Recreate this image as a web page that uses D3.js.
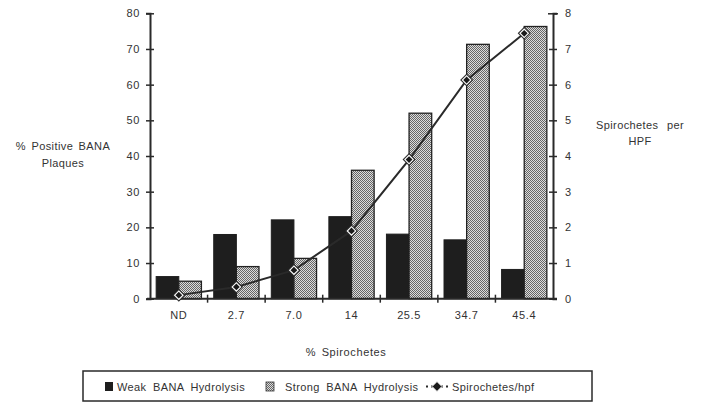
<!DOCTYPE html>
<html><head><meta charset="utf-8">
<script src="https://cdn.jsdelivr.net/npm/d3@7"></script>
<style>
html,body{margin:0;padding:0;background:#fff;}
text{font-family:"Liberation Sans",Arial,Helvetica,sans-serif;fill:#333;}
</style></head>
<body><svg id="c" width="702" height="403"></svg>
<script>
const categories = ["ND","2.7","7.0","14","25.5","34.7","45.4"];
const weakBANA   = [6.2, 18.0, 22.1, 23.0, 18.1, 16.5, 8.2];
const strongBANA = [4.9, 9.0, 11.3, 36.0, 52.0, 71.3, 76.3];
const spirochetesHpf = [0.1, 0.33, 0.8, 1.9, 3.9, 6.13, 7.44];
const leftTicks  = [0,10,20,30,40,50,60,70,80];
const rightTicks = [0,1,2,3,4,5,6,7,8];
const seriesNames = ["Weak BANA Hydrolysis","Strong BANA Hydrolysis","Spirochetes/hpf"];

const svg = d3.select("#c");
const ink = "#2a2a2a";
const defs = svg.append("defs");
const pat = defs.append("pattern").attr("id","dots").attr("patternUnits","userSpaceOnUse")
  .attr("width",2).attr("height",2);
pat.append("rect").attr("width",2).attr("height",2).attr("fill","#dcdcdc");
pat.append("rect").attr("width",1).attr("height",1).attr("fill","#666");
pat.append("rect").attr("x",1).attr("y",1).attr("width",1).attr("height",1).attr("fill","#666");

const L = 150, R = 553, T = 13.3, B = 298.7;
const x = d3.scaleBand().domain(categories).range([L, R]).padding(0);
const bw = x.bandwidth();
const xs = d3.scaleBand().domain(["weak","strong"]).range([bw*0.107, bw*0.893]).padding(0);
const y = d3.scaleLinear().domain([0,80]).range([B, T]);
const yR = d3.scaleLinear().domain([0,8]).range([B, T]);

// bars
const g = svg.append("g");
g.selectAll("rect.weak").data(categories).join("rect").attr("class","weak")
  .attr("x", d => x(d) + xs("weak")).attr("width", xs.bandwidth())
  .attr("y", (d,i) => y(weakBANA[i])).attr("height", (d,i) => y(0) - y(weakBANA[i]))
  .attr("fill", "#1e1e1e").attr("stroke","#1e1e1e").attr("stroke-width",1);
g.selectAll("rect.strong").data(categories).join("rect").attr("class","strong")
  .attr("x", d => x(d) + xs("strong")).attr("width", xs.bandwidth())
  .attr("y", (d,i) => y(strongBANA[i])).attr("height", (d,i) => y(0) - y(strongBANA[i]))
  .attr("fill", "url(#dots)").attr("stroke","#222").attr("stroke-width",1.3);

// axes
const axL = svg.append("g").attr("transform",`translate(${L},0)`)
  .call(d3.axisLeft(y).tickValues(leftTicks).tickSizeOuter(0).tickSize(4).tickPadding(6));
const axR = svg.append("g").attr("transform",`translate(${R},0)`)
  .call(d3.axisRight(yR).tickValues(rightTicks).tickSizeOuter(0).tickSize(4).tickPadding(8));
[axL, axR].forEach(a => {
  a.select(".domain").attr("stroke", ink).attr("stroke-width", 2);
  a.selectAll(".tick line").attr("x1",-4).attr("x2",4).attr("stroke",ink).attr("stroke-width",1.5);
  a.selectAll(".tick text").style("font-size","11px").style("letter-spacing","0.6px").attr("fill","#333");
});
axR.selectAll(".tick").filter(d => d === 8).select("line").attr("x1",-5).attr("x2",5);

// x axis
const axB = svg.append("g").attr("transform",`translate(0,${B})`);
axB.append("line").attr("x1",L-3).attr("x2",R+4).attr("stroke",ink).attr("stroke-width",2);
axB.selectAll("line.tk").data(categories.slice(1)).join("line").attr("class","tk")
  .attr("x1", d => x(d)).attr("x2", d => x(d)).attr("y1",-4).attr("y2",4)
  .attr("stroke",ink).attr("stroke-width",1.5);
axB.selectAll("text").data(categories).join("text")
  .attr("x", d => x(d) + bw/2).attr("y", 20).attr("text-anchor","middle")
  .style("font-size","11px").style("letter-spacing","0.6px").text(d => d);

// line
const line = d3.line().x((d,i) => x(categories[i]) + bw/2).y(d => yR(d));
svg.append("path").datum(spirochetesHpf).attr("d", line)
  .attr("fill","none").attr("stroke", ink).attr("stroke-width", 2);
const dia = r => `M0,${-r}L${r},0L0,${r}L${-r},0Z`;
const mk = svg.selectAll("g.mk").data(spirochetesHpf).join("g").attr("class","mk")
  .attr("transform",(d,i) => `translate(${x(categories[i]) + bw/2},${yR(d)})`);
mk.append("path").attr("d", dia(6.5)).attr("fill", ink);
mk.append("path").attr("d", dia(5)).attr("fill", "#fff");
mk.append("path").attr("d", dia(3.4)).attr("fill", "#1a1a1a");

// titles
const t1 = svg.append("text").attr("text-anchor","middle").style("font-size","11px").style("letter-spacing","0.4px").style("word-spacing","2px");
t1.append("tspan").attr("x",63).attr("y",150).text("% Positive BANA");
t1.append("tspan").attr("x",63).attr("y",167).text("Plaques");
const t2 = svg.append("text").attr("text-anchor","middle").style("font-size","11px").style("letter-spacing","0.4px").style("word-spacing","5px");
t2.append("tspan").attr("x",640).attr("y",129).text("Spirochetes per");
t2.append("tspan").attr("x",640).attr("y",145).text("HPF");
svg.append("text").attr("x",346).attr("y",356).attr("text-anchor","middle")
  .style("font-size","11px").style("letter-spacing","0.6px").style("word-spacing","2px").text("% Spirochetes");

// legend
const lg = svg.append("g");
lg.append("rect").attr("x",83).attr("y",371).attr("width",509).attr("height",30)
  .attr("fill","none").attr("stroke",ink).attr("stroke-width",1.5);
lg.append("rect").attr("x",105).attr("y",382).attr("width",8).attr("height",9).attr("fill","#1e1e1e");
lg.append("rect").attr("x",266).attr("y",382).attr("width",8).attr("height",9).attr("fill","url(#dots)").attr("stroke","#333").attr("stroke-width",0.8);
lg.append("line").attr("x1",426).attr("x2",448).attr("y1",386.5).attr("y2",386.5)
  .attr("stroke",ink).attr("stroke-width",2).attr("stroke-dasharray","2,3");
lg.append("path").attr("transform","translate(437,386.5)").attr("d",dia(5)).attr("fill","#1a1a1a").attr("stroke","#fff").attr("stroke-width",1);
const lx = [117, 285, 452];
lg.selectAll("text").data(seriesNames).join("text")
  .attr("x",(d,i)=>lx[i]).attr("y",391)
  .style("font-size","11px").style("letter-spacing","0.4px").style("word-spacing","3px").text(d=>d);
</script></body></html>
